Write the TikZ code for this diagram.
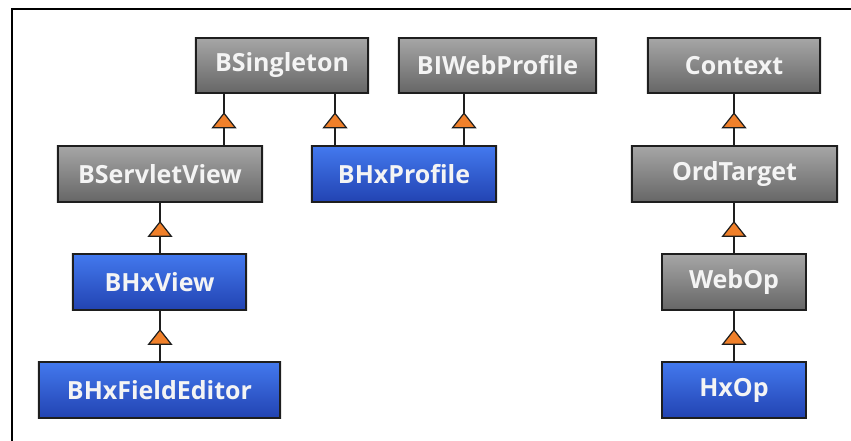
\documentclass[tikz,border=0pt]{standalone}
\usepackage{fontspec}
\setmainfont{Open Sans}
\usetikzlibrary{arrows.meta,decorations.markings,shadows}
\definecolor{greytop}{HTML}{A6A6A6}
\definecolor{greybot}{HTML}{666666}
\definecolor{bluetop}{HTML}{4379EE}
\definecolor{bluebot}{HTML}{2243B2}
\definecolor{edge}{HTML}{1E1E1E}
\definecolor{tri}{HTML}{F0802A}
\definecolor{label}{HTML}{F4F4F4}
\tikzset{
  classbox/.style={draw=edge, line width=1.6pt, rectangle, inner sep=0pt,
    font=\fontsize{25}{28}\selectfont\bfseries, text=label,
    drop shadow={shadow xshift=0pt, shadow yshift=0pt, opacity=0.25, fill=black!40, shadow scale=1.02}},
  greybox/.style={classbox, top color=greytop, bottom color=greybot},
  bluebox/.style={classbox, top color=bluetop, bottom color=bluebot},
  inherits/.style={draw=edge, line width=1.6pt,
    postaction={decorate, decoration={markings,
      mark=at position 0.64 with {\arrow{Triangle[width=25pt,length=16pt,fill=tri,line width=1.2pt]}}}}},
}
\newcommand{\classat}[7]{%
  \node[#1, minimum width=#5pt-#4pt, minimum height=#7pt-#6pt]
    (#2) at ({(#4+#5)/2}, {(#6+#7)/2}) {#3};}
\begin{document}
\begin{tikzpicture}[x=1pt, y=-1pt]
  \useasboundingbox (0,0) rectangle (851,441);
  % frame lines along top and left
  \draw[line width=1.6pt, black] (12,441) -- (12,9) -- (851,9);

  % classes
  \classat{greybox}{bsingleton}{BSingleton}{196}{368}{38}{93}
  \classat{greybox}{biwebprofile}{BIWebProfile}{399}{596}{38}{93}
  \classat{greybox}{context}{Context}{648}{820}{38}{93}
  \classat{greybox}{bservletview}{BServletView}{58}{262}{146}{202}
  \classat{bluebox}{bhxprofile}{BHxProfile}{312}{496}{146}{202}
  \classat{greybox}{ordtarget}{OrdTarget}{632}{837}{146}{202}
  \classat{bluebox}{bhxview}{BHxView}{73}{246}{254}{310}
  \classat{greybox}{webop}{WebOp}{662}{806}{254}{310}
  \classat{bluebox}{bhxfieldeditor}{BHxFieldEditor}{39}{280}{362}{418}
  \classat{bluebox}{hxop}{HxOp}{662}{806}{362}{418}

  % generalisation links, child up to parent
  \path[inherits] (bservletview.north -| 224,0) -- (bsingleton.south -| 224,0);
  \path[inherits] (bhxprofile.north -| 335,0) -- (bsingleton.south -| 335,0);
  \path[inherits] (bhxprofile.north -| 464,0) -- (biwebprofile.south -| 464,0);
  \path[inherits] (ordtarget.north -| context.south) -- (context.south);
  \path[inherits] (bhxview.north -| 160,0) -- (bservletview.south -| 160,0);
  \path[inherits] (bhxfieldeditor.north -| 160,0) -- (bhxview.south -| 160,0);
  \path[inherits] (webop.north -| 734,0) -- (ordtarget.south -| 734,0);
  \path[inherits] (hxop.north -| 734,0) -- (webop.south -| 734,0);
\end{tikzpicture}
\end{document}
